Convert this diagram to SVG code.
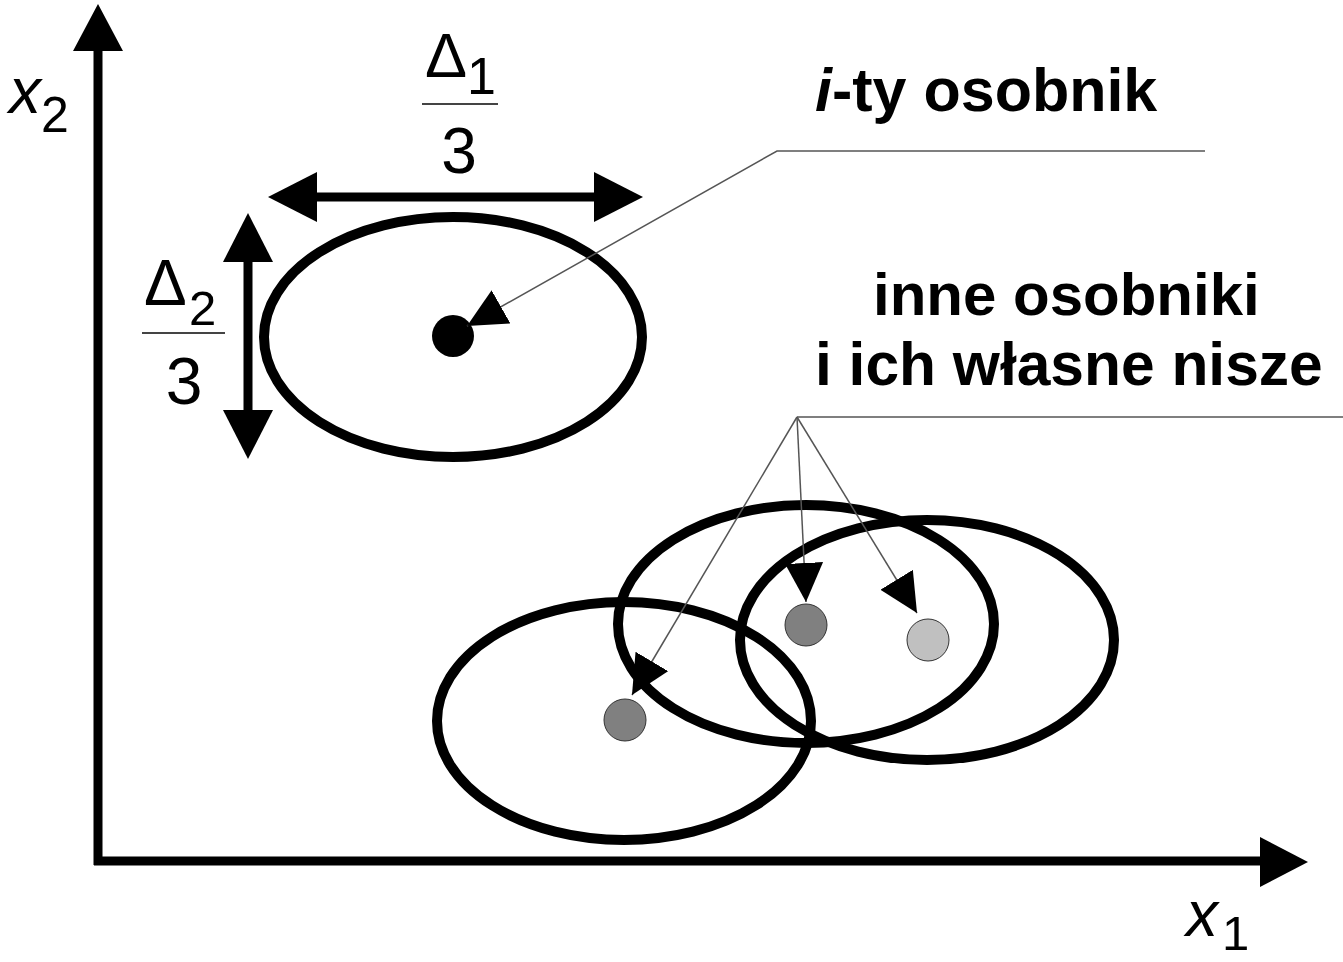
<svg xmlns="http://www.w3.org/2000/svg" width="1343" height="962" viewBox="0 0 1343 962">
<defs>
<style>
.ell{fill:none;stroke:#000;stroke-width:10}
.axis{stroke:#000;stroke-width:9;fill:none}
.lead{stroke:#555;stroke-width:1.5;fill:none}
.t{font-family:"Liberation Sans",Arial,sans-serif;fill:#000}
.b{font-weight:bold;font-size:60px}
.frac{stroke:#444;stroke-width:2}
</style>
<marker id="ah" markerUnits="userSpaceOnUse" markerWidth="40" markerHeight="40" refX="39" refY="19" orient="auto">
<path d="M0,0 L39,19 L0,38 z" fill="#000"/>
</marker>
</defs>
<rect width="1343" height="962" fill="#fff"/>
<g id="axes">
<line class="axis" x1="98" y1="48" x2="98" y2="865"/>
<polygon points="98,4 73,51 123,51" fill="#000"/>
<line class="axis" x1="94" y1="861" x2="1262" y2="861"/>
<polygon points="1308,862 1260,837 1260,887" fill="#000"/>
<text class="t" x="9" y="113" font-size="64" font-style="italic">x</text>
<text class="t" x="41" y="132" font-size="50">2</text>
<text class="t" x="1186" y="936" font-size="64" font-style="italic">x</text>
<text class="t" x="1222" y="950" font-size="49">1</text>
</g>
<g id="niche-i">
<ellipse class="ell" cx="453" cy="337" rx="189" ry="120"/>
<circle cx="453" cy="336" r="21" fill="#000"/>
</g>
<g id="dim-1">
<line class="axis" x1="312" y1="197" x2="600" y2="197"/>
<polygon points="268,197 317,172 317,222" fill="#000"/>
<polygon points="643,197 594,172 594,222" fill="#000"/>
<text class="t" x="425" y="77" font-size="63">Δ</text>
<text class="t" x="467" y="94" font-size="52">1</text>
<line class="frac" x1="422" y1="104" x2="498" y2="104"/>
<text class="t" x="459" y="173" font-size="64" text-anchor="middle">3</text>
</g>
<g id="dim-2">
<line class="axis" x1="248" y1="257" x2="248" y2="415"/>
<polygon points="248,213 223,262 273,262" fill="#000"/>
<polygon points="248,459 223,410 273,410" fill="#000"/>
<text class="t" x="144" y="305" font-size="64">Δ</text>
<text class="t" x="189" y="325" font-size="49">2</text>
<line class="frac" x1="142" y1="333" x2="225" y2="333"/>
<text class="t" x="184" y="404" font-size="66" text-anchor="middle">3</text>
</g>
<g id="niche-a">
<ellipse class="ell" cx="624" cy="721" rx="187" ry="119"/>
</g>
<g id="niche-b">
<ellipse class="ell" cx="806" cy="624" rx="188" ry="119"/>
</g>
<g id="niche-c">
<ellipse class="ell" cx="927" cy="640" rx="187" ry="120"/>
</g>
<g id="label-i">
<text class="t b" x="815" y="111" style="font-size:61px"><tspan font-style="italic">i</tspan>-ty osobnik</text>
</g>
<g id="label-others">
<text class="t b" x="873" y="315">inne osobniki</text>
<text class="t b" x="815" y="385" style="font-size:60.5px">i ich własne nisze</text>
</g>
<g id="connectors">
<polyline class="lead" points="1205,151 777,151 467,326" marker-end="url(#ah)"/>
<line class="lead" x1="1343" y1="417" x2="797" y2="417"/>
<line class="lead" x1="797" y1="417" x2="632" y2="695" marker-end="url(#ah)"/>
<line class="lead" x1="797" y1="417" x2="806" y2="602" marker-end="url(#ah)"/>
<line class="lead" x1="797" y1="417" x2="917" y2="613" marker-end="url(#ah)"/>
</g>
<g id="dots">
<circle cx="625" cy="720" r="21" fill="#808080" stroke="#333" stroke-width="1"/>
<circle cx="806" cy="625" r="21" fill="#808080" stroke="#333" stroke-width="1"/>
<circle cx="928" cy="640" r="21" fill="#c0c0c0" stroke="#333" stroke-width="1"/>
</g>
</svg>
